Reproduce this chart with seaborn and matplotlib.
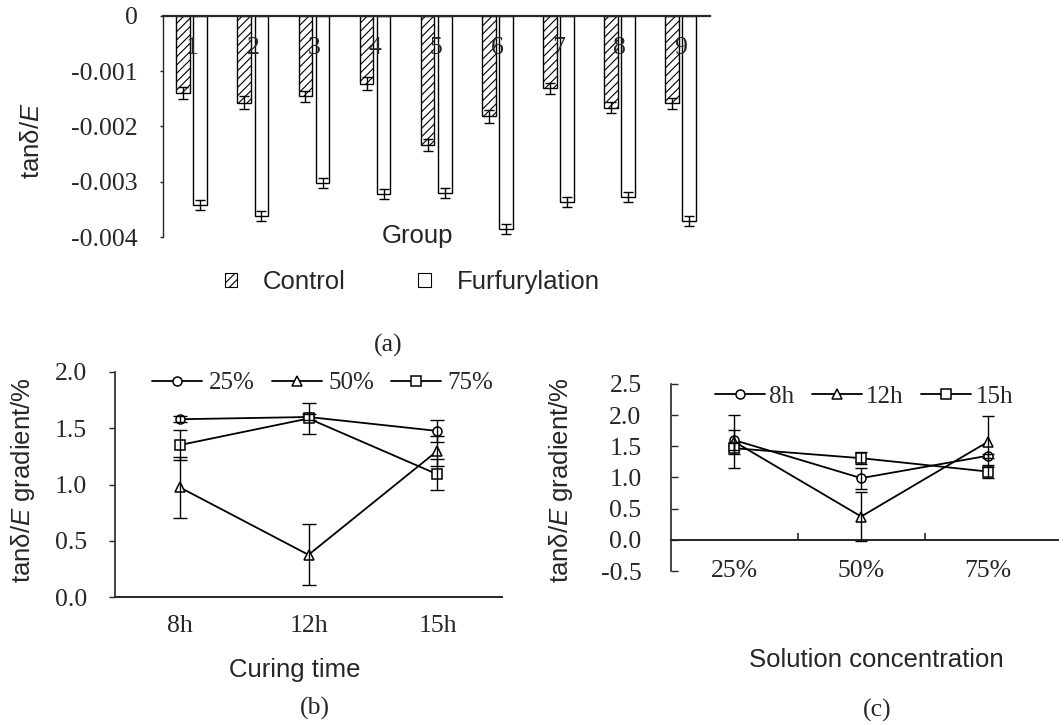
import numpy as np
import pandas as pd
import matplotlib
matplotlib.use("Agg")
import matplotlib.pyplot as plt
import seaborn as sns
from matplotlib.patches import Patch
from matplotlib.lines import Line2D
from matplotlib.ticker import FormatStrFormatter, FixedLocator

# ---------------- data ----------------
groups = ["1", "2", "3", "4", "5", "6", "7", "8", "9"]
control = [-0.00139, -0.00157, -0.00146, -0.00123, -0.00233, -0.00182, -0.00131, -0.00166, -0.00158]
control_err = [0.00011, 0.00011, 0.00010, 0.00012, 0.00011, 0.00012, 0.00010, 0.00010, 0.00010]
furf = [-0.00343, -0.00362, -0.00303, -0.00322, -0.00320, -0.00385, -0.00336, -0.00328, -0.00371]
furf_err = [0.00009, 0.00009, 0.00009, 0.00009, 0.00009, 0.00009, 0.00009, 0.00009, 0.00009]
bar_series = ["Control", "Furfurylation"]
a_yticks = [0, -0.001, -0.002, -0.003, -0.004]
a_yticklabels = ["0", "-0.001", "-0.002", "-0.003", "-0.004"]

times = ["8h", "12h", "15h"]
b_series = ["25%", "50%", "75%"]
b_25 = [1.58, 1.60, 1.476]
b_25_err = [0.025, 0.03, 0.10]
b_50 = [0.976, 0.375, 1.30]
b_50_err = [0.27, 0.27, 0.135]
b_75 = [1.35, 1.587, 1.09]
b_75_err = [0.135, 0.14, 0.14]

concs = ["25%", "50%", "75%"]
c_series = ["8h", "12h", "15h"]
c_8h = [1.60, 0.99, 1.35]
c_8h_err = [0.16, 0.17, 0.03]
c_12h = [1.575, 0.374, 1.575]
c_12h_err = [0.42, 0.40, 0.41]
c_15h = [1.47, 1.31, 1.095]
c_15h_err = [0.09, 0.10, 0.11]

# ---------------- style ----------------
sns.set_style("ticks")
plt.rcParams["font.family"] = ["Liberation Serif", "DejaVu Serif"]
plt.rcParams["axes.unicode_minus"] = False
plt.rcParams["mathtext.fontset"] = "custom"
plt.rcParams["mathtext.it"] = "Liberation Sans:italic"
plt.rcParams["mathtext.rm"] = "Liberation Sans"
plt.rcParams["hatch.linewidth"] = 0.8
plt.rcParams["hatch.color"] = "black"

FS = 18.5
SANS = ["Liberation Sans", "DejaVu Sans"]
SERIF = ["Liberation Serif", "DejaVu Serif"]

fig = plt.figure(figsize=(10.64, 7.25), dpi=100)
W, H = 1064, 725


def ax_rect(l, r, t, b):
    return [l / W, 1 - b / H, (r - l) / W, (b - t) / H]


# ---------------- panel (a) ----------------
axa = fig.add_axes(ax_rect(163, 710, 15.7, 237))
dfa = pd.DataFrame({
    "group": groups * 2,
    "value": control + furf,
    "series": [bar_series[0]] * len(groups) + [bar_series[1]] * len(groups),
})
sns.barplot(data=dfa, x="group", y="value", hue="series", order=groups,
            hue_order=bar_series, palette={s: "white" for s in bar_series},
            edgecolor="black", linewidth=1.0, width=0.56, gap=0.2,
            errorbar=None, legend=False, ax=axa)
for p in axa.containers[0]:
    p.set_hatch("////")
for cont, vals, errs in zip(axa.containers, [control, furf], [control_err, furf_err]):
    xs = [p.get_x() + p.get_width() / 2 for p in cont]
    axa.errorbar(xs, vals, yerr=errs, fmt="none", ecolor="black",
                 elinewidth=1.0, capsize=3.6, capthick=1.0, zorder=4)
centers = [(p0.get_x() + p1.get_x() + p1.get_width()) / 2
           for p0, p1 in zip(axa.containers[0], axa.containers[1])]
for cx, g in zip(centers, groups):
    axa.text(cx, -0.00058, g, ha="center", va="center", fontsize=FS,
             family=SERIF, zorder=5)
axa.set_ylim(-0.004, 0)
axa.set_xlim(-0.47, 8.48)
axa.set_yticks(a_yticks)
axa.set_yticklabels(a_yticklabels)
axa.tick_params(axis="y", direction="out", length=2.5, width=1, pad=15.5, labelsize=FS)
axa.tick_params(axis="x", bottom=False, labelbottom=False, top=False)
for s in ["bottom", "right"]:
    axa.spines[s].set_visible(False)
axa.spines["top"].set_linewidth(1.6)
axa.spines["left"].set_linewidth(1.0)
axa.set_ylabel("tanδ/$\\mathit{E}$", fontsize=FS, family=SANS, va="center")
axa.yaxis.set_label_coords(-0.2395, 0.434)
axa.set_xlabel("Group", fontsize=FS, family=SANS, va="center")
axa.xaxis.set_label_coords(0.466, 0.005)

leg_handles = [Patch(facecolor="white", edgecolor="black", hatch="////", linewidth=0.8),
               Patch(facecolor="white", edgecolor="black", linewidth=0.8)]
fig.legend(leg_handles, bar_series, loc="center",
           bbox_to_anchor=(412 / W, 1 - 282 / H), ncol=2, frameon=False,
           handlelength=0.5, handleheight=0.5, handletextpad=1.0,
           columnspacing=2.8, prop={"family": SANS, "size": FS})
fig.text(388 / W, 1 - 345 / H, "(a)", ha="center", va="center", fontsize=FS, family=SERIF)


# ---------------- helper for line panels ----------------
def line_panel(ax, cats, series, vals, errs, capsize):
    df = pd.DataFrame({
        "cat": cats * len(series),
        "value": [v for vs in vals for v in vs],
        "series": [s for s in series for _ in cats],
    })
    sns.pointplot(data=df, x="cat", y="value", hue="series", order=cats,
                  hue_order=series, palette=["black"] * len(series),
                  markers=["o", "^", "s"], linestyles="-", errorbar=None,
                  legend=False, ax=ax)
    lines = list(ax.lines)
    for ln in lines:
        ln.set_markerfacecolor("white")
        ln.set_markeredgecolor("black")
        ln.set_markersize(6.5)
        ln.set_markeredgewidth(1.1)
        ln.set_linewidth(1.3)
        ln.set_zorder(3)
    for ln, v, e in zip(lines, vals, errs):
        ax.errorbar(ln.get_xdata(), v, yerr=e, fmt="none", ecolor="black",
                    elinewidth=1.0, capsize=capsize, capthick=1.0, zorder=4)
    handles = [Line2D([], [], color="black", marker=m, markerfacecolor="white",
                      markersize=6.5, markeredgewidth=1.1, linewidth=1.3)
               for m in ["o", "^", "s"]]
    return handles


# ---------------- panel (b) ----------------
axb = fig.add_axes(ax_rect(115, 502, 372, 597))
hb = line_panel(axb, times, b_series, [b_25, b_50, b_75],
                [b_25_err, b_50_err, b_75_err], capsize=4.7)
axb.set_xlim(-0.5, 2.5)
axb.set_ylim(0, 2.0)
axb.set_yticks([0, 0.5, 1.0, 1.5, 2.0])
axb.yaxis.set_major_formatter(FormatStrFormatter("%.1f"))
axb.tick_params(axis="y", direction="out", length=4, width=1, pad=16, labelsize=FS)
axb.tick_params(axis="x", length=0, pad=13, labelsize=FS)
for s in ["top", "right"]:
    axb.spines[s].set_visible(False)
axb.spines["left"].set_linewidth(1.2)
axb.spines["bottom"].set_linewidth(1.4)
axb.set_xlabel("Curing time", fontsize=FS, family=SANS, va="center")
axb.xaxis.set_label_coords(0.465, -0.324)
axb.set_ylabel("tanδ/$\\mathit{E}$ gradient/%", fontsize=FS, family=SANS, va="center")
axb.yaxis.set_label_coords(-0.239, 0.52)
axb.legend(hb, b_series, loc="center", bbox_to_anchor=(0.537, 0.951), ncol=3,
           frameon=False, handlelength=2.0, handletextpad=0.25, columnspacing=0.7,
           prop={"family": SERIF, "size": 18}, borderaxespad=0)
fig.text(315 / W, 1 - 708 / H, "(b)", ha="center", va="center", fontsize=FS, family=SERIF)

# ---------------- panel (c) ----------------
axc = fig.add_axes(ax_rect(670.7, 1058, 384, 571))
hc = line_panel(axc, concs, c_series, [c_8h, c_12h, c_15h],
                [c_8h_err, c_12h_err, c_15h_err], capsize=4.3)
axc.set_xlim(-0.5, 2.55)
axc.set_ylim(-0.5, 2.5)
axc.set_yticks([-0.5, 0, 0.5, 1.0, 1.5, 2.0, 2.5])
axc.yaxis.set_major_formatter(FormatStrFormatter("%.1f"))
axc.tick_params(axis="y", direction="in", length=5, width=1, pad=21, labelsize=FS)
axc.spines["top"].set_position(("data", 0))
axc.spines["top"].set_linewidth(1.4)
axc.spines["left"].set_linewidth(1.2)
axc.spines["bottom"].set_visible(False)
axc.spines["right"].set_visible(False)
axc.xaxis.set_minor_locator(FixedLocator([0.5, 1.5]))
axc.tick_params(axis="x", which="major", length=0, bottom=True, top=False,
                labelbottom=True, pad=-8, labelsize=FS)
axc.tick_params(axis="x", which="minor", top=True, bottom=False, direction="out",
                length=5, width=1.2)
axc.set_xlabel("Solution concentration", fontsize=FS, family=SANS, va="center")
axc.xaxis.set_label_coords(0.531, -0.476)
axc.set_ylabel("tanδ/$\\mathit{E}$ gradient/%", fontsize=FS, family=SANS, va="center")
axc.yaxis.set_label_coords(-0.282, 0.487)
axc.legend(hc, c_series, loc="center", bbox_to_anchor=(0.499, 0.932), ncol=3,
           frameon=False, handlelength=2.0, handletextpad=0.19, columnspacing=0.68,
           prop={"family": SERIF, "size": 18}, borderaxespad=0)
fig.text(877 / W, 1 - 710 / H, "(c)", ha="center", va="center", fontsize=FS, family=SERIF)

fig.savefig("out.png", dpi=100)
